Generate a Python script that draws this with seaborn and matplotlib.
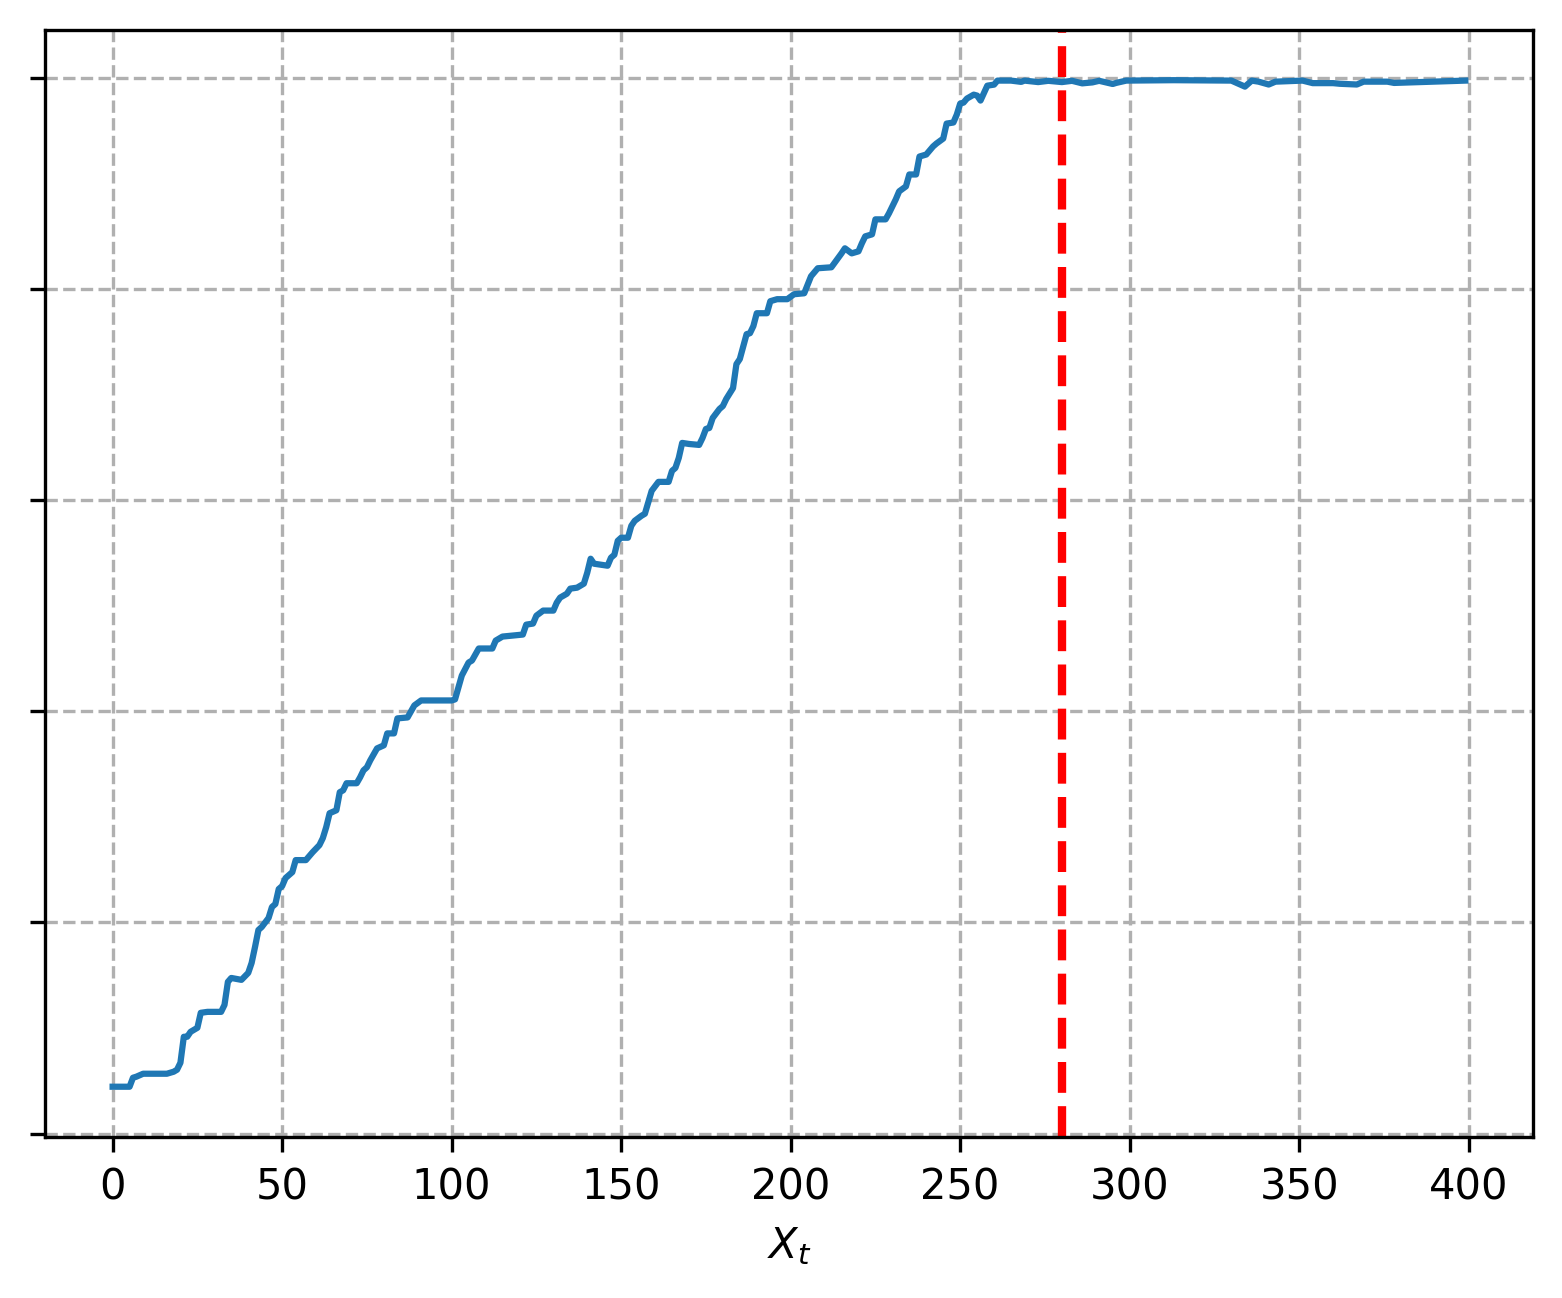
import matplotlib
matplotlib.use("Agg")
import matplotlib.pyplot as plt
import seaborn as sns
import pandas as pd

# time steps (breakpoints)
steps = [0, 5, 6, 7, 9, 16, 18, 19, 20, 21, 22, 23, 25, 26, 28, 32, 33, 34, 35, 38,
         40, 41, 42, 43, 44, 46, 47, 48, 49, 50, 51, 53, 54, 57, 59, 61, 62, 63, 64, 66,
         67, 68, 69, 72, 73, 74, 75, 76, 78, 80, 81, 83, 84, 87, 89, 91, 100, 101, 103, 105,
         106, 108, 112, 113, 115, 118, 121, 122, 124, 125, 127, 130, 131, 132, 134, 135, 137, 139, 140, 141,
         142, 146, 147, 148, 149, 150, 152, 153, 154, 156, 157, 159, 161, 164, 165, 166, 167, 168, 170, 173,
         174, 175, 176, 177, 179, 180, 181, 183, 184, 185, 187, 188, 189, 190, 193, 194, 196, 199, 201, 204,
         206, 208, 212, 215, 216, 218, 220, 221, 222, 224, 225, 228, 229, 231, 232, 234, 235, 237, 238, 240,
         242, 243, 245, 246, 248, 249, 250, 251, 252, 254, 255, 256, 258, 260, 261, 265, 268, 269, 273, 276,
         280, 283, 286, 289, 291, 295, 296, 299, 313, 330, 334, 336, 338, 341, 343, 351, 354, 360, 362, 367,
         369, 376, 378, 383, 391, 399]

values = [0.0444, 0.0444, 0.0529, 0.0539, 0.0567, 0.0567, 0.0586, 0.0605, 0.0671, 0.0917,
          0.0917, 0.0964, 0.1002, 0.1144, 0.1153, 0.1153, 0.1219, 0.1437, 0.1474, 0.1456,
          0.1522, 0.1616, 0.1767, 0.1928, 0.1957, 0.2042, 0.2146, 0.2174, 0.2316, 0.2344,
          0.2420, 0.2476, 0.2590, 0.2590, 0.2665, 0.2732, 0.2798, 0.2902, 0.3034, 0.3062,
          0.3233, 0.3251, 0.3318, 0.3318, 0.3374, 0.3440, 0.3469, 0.3535, 0.3648, 0.3677,
          0.3790, 0.3790, 0.3932, 0.3941, 0.4055, 0.4102, 0.4102, 0.4112, 0.4338, 0.4461,
          0.4480, 0.4594, 0.4594, 0.4669, 0.4707, 0.4716, 0.4726, 0.4820, 0.4830, 0.4905,
          0.4953, 0.4953, 0.5028, 0.5076, 0.5113, 0.5161, 0.5170, 0.5208, 0.5312, 0.5444,
          0.5397, 0.5378, 0.5454, 0.5482, 0.5614, 0.5643, 0.5643, 0.5756, 0.5803, 0.5851,
          0.5870, 0.6087, 0.6172, 0.6172, 0.6276, 0.6304, 0.6399, 0.6541, 0.6531, 0.6522,
          0.6588, 0.6673, 0.6682, 0.6777, 0.6862, 0.6890, 0.6957, 0.7060, 0.7287, 0.7335,
          0.7571, 0.7580, 0.7647, 0.7769, 0.7769, 0.7883, 0.7902, 0.7902, 0.7949, 0.7958,
          0.8119, 0.8195, 0.8204, 0.8336, 0.8384, 0.8336, 0.8355, 0.8431, 0.8497, 0.8516,
          0.8658, 0.8658, 0.8715, 0.8847, 0.8923, 0.8970, 0.9083, 0.9083, 0.9253, 0.9272,
          0.9348, 0.9376, 0.9423, 0.9565, 0.9575, 0.9650, 0.9754, 0.9764, 0.9802, 0.9839,
          0.9830, 0.9783, 0.9924, 0.9934, 0.9972, 0.9972, 0.9960, 0.9972, 0.9958, 0.9970,
          0.9958, 0.9970, 0.9946, 0.9955, 0.9970, 0.9940, 0.9950, 0.9972, 0.9976, 0.9972,
          0.9915, 0.9972, 0.9962, 0.9935, 0.9962, 0.9972, 0.9948, 0.9948, 0.9942, 0.9935,
          0.9962, 0.9962, 0.9950, 0.9955, 0.9962, 0.9972]

change_point = 280
ytick_vals = [0.0, 0.2, 0.4, 0.6, 0.8, 1.0]

df = pd.DataFrame({"t": steps, "x": values})

fig, ax = plt.subplots(figsize=(1562 / 300, 1298 / 300), dpi=300)
fig.subplots_adjust(left=0.0288, right=0.9814, top=0.977, bottom=0.124)

sns.lineplot(data=df, x="t", y="x", ax=ax, color="#1f77b4", linewidth=1.5)
ax.axvline(change_point, color="red", linestyle="--", linewidth=2)

ax.set_yticks(ytick_vals)
ax.set_yticklabels([])
ax.set_xticks(range(0, 401, 50))
ax.grid(True, linestyle="--")
ax.set_xlabel("$X_t$")
ax.set_ylabel("")

fig.savefig("out.png", dpi=300)
